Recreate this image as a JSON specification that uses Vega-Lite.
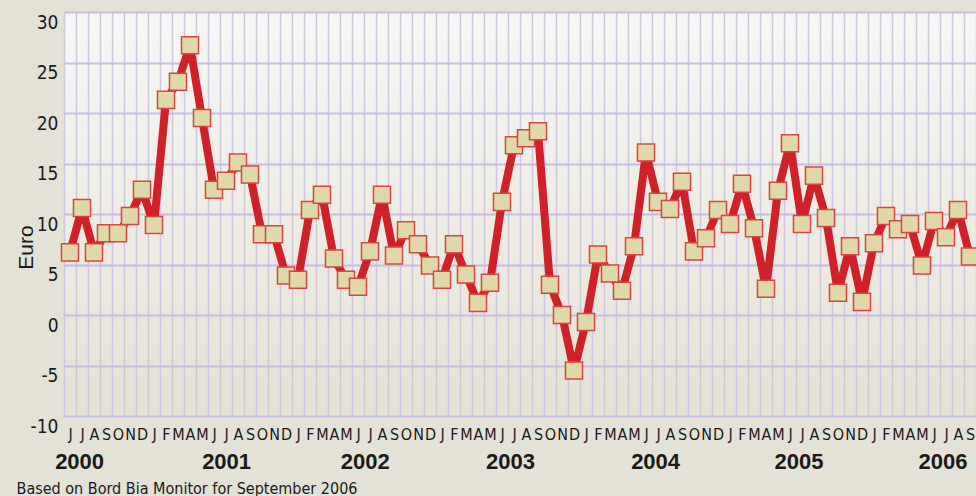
{
  "$schema": "https://vega.github.io/schema/vega-lite/v6.json",
  "autosize": {"type": "none"},
  "width": 912,
  "height": 404,
  "padding": {"left": 64, "top": 12, "right": 0, "bottom": 80},
  "background": "#e4e1d6",
  "config": {
    "view": {"stroke": null, "fill": {"gradient": "linear", "x1": 0, "y1": 0, "x2": 0, "y2": 1, "stops": [{"offset": 0, "color": "#f7f7f5"}, {"offset": 1, "color": "#e4e1d5"}]}},
    "axis": {"labelFont": "Liberation Sans Narrow, DejaVu Sans Condensed, sans-serif", "labelColor": "#1a1a1a", "titleColor": "#1a1a1a"}
  },
  "datasets": {
    "prices": [
      {"t": 0, "month": "2000-06", "price": 6.2},
      {"t": 1, "month": "2000-07", "price": 10.6},
      {"t": 2, "month": "2000-08", "price": 6.2},
      {"t": 3, "month": "2000-09", "price": 8.1},
      {"t": 4, "month": "2000-10", "price": 8.1},
      {"t": 5, "month": "2000-11", "price": 9.8},
      {"t": 6, "month": "2000-12", "price": 12.4},
      {"t": 7, "month": "2001-01", "price": 8.9},
      {"t": 8, "month": "2001-02", "price": 21.3},
      {"t": 9, "month": "2001-03", "price": 23.1},
      {"t": 10, "month": "2001-04", "price": 26.7},
      {"t": 11, "month": "2001-05", "price": 19.5},
      {"t": 12, "month": "2001-06", "price": 12.4},
      {"t": 13, "month": "2001-07", "price": 13.3},
      {"t": 14, "month": "2001-08", "price": 15.1},
      {"t": 15, "month": "2001-09", "price": 13.9},
      {"t": 16, "month": "2001-10", "price": 8.0},
      {"t": 17, "month": "2001-11", "price": 8.0},
      {"t": 18, "month": "2001-12", "price": 3.9},
      {"t": 19, "month": "2002-01", "price": 3.5},
      {"t": 20, "month": "2002-02", "price": 10.4},
      {"t": 21, "month": "2002-03", "price": 11.9},
      {"t": 22, "month": "2002-04", "price": 5.6},
      {"t": 23, "month": "2002-05", "price": 3.5},
      {"t": 24, "month": "2002-06", "price": 2.8},
      {"t": 25, "month": "2002-07", "price": 6.3},
      {"t": 26, "month": "2002-08", "price": 11.9},
      {"t": 27, "month": "2002-09", "price": 5.9},
      {"t": 28, "month": "2002-10", "price": 8.4},
      {"t": 29, "month": "2002-11", "price": 7.0},
      {"t": 30, "month": "2002-12", "price": 4.9},
      {"t": 31, "month": "2003-01", "price": 3.5},
      {"t": 32, "month": "2003-02", "price": 7.0},
      {"t": 33, "month": "2003-03", "price": 4.0},
      {"t": 34, "month": "2003-04", "price": 1.2},
      {"t": 35, "month": "2003-05", "price": 3.2},
      {"t": 36, "month": "2003-06", "price": 11.2},
      {"t": 37, "month": "2003-07", "price": 16.8},
      {"t": 38, "month": "2003-08", "price": 17.5},
      {"t": 39, "month": "2003-09", "price": 18.2},
      {"t": 40, "month": "2003-10", "price": 3.0},
      {"t": 41, "month": "2003-11", "price": 0.0},
      {"t": 42, "month": "2003-12", "price": -5.5},
      {"t": 43, "month": "2004-01", "price": -0.7},
      {"t": 44, "month": "2004-02", "price": 6.0},
      {"t": 45, "month": "2004-03", "price": 4.1},
      {"t": 46, "month": "2004-04", "price": 2.4},
      {"t": 47, "month": "2004-05", "price": 6.8},
      {"t": 48, "month": "2004-06", "price": 16.1},
      {"t": 49, "month": "2004-07", "price": 11.2},
      {"t": 50, "month": "2004-08", "price": 10.5},
      {"t": 51, "month": "2004-09", "price": 13.2},
      {"t": 52, "month": "2004-10", "price": 6.3},
      {"t": 53, "month": "2004-11", "price": 7.6},
      {"t": 54, "month": "2004-12", "price": 10.4},
      {"t": 55, "month": "2005-01", "price": 9.0},
      {"t": 56, "month": "2005-02", "price": 13.0},
      {"t": 57, "month": "2005-03", "price": 8.6},
      {"t": 58, "month": "2005-04", "price": 2.6},
      {"t": 59, "month": "2005-05", "price": 12.3},
      {"t": 60, "month": "2005-06", "price": 17.0},
      {"t": 61, "month": "2005-07", "price": 9.0},
      {"t": 62, "month": "2005-08", "price": 13.8},
      {"t": 63, "month": "2005-09", "price": 9.6},
      {"t": 64, "month": "2005-10", "price": 2.2},
      {"t": 65, "month": "2005-11", "price": 6.8},
      {"t": 66, "month": "2005-12", "price": 1.3},
      {"t": 67, "month": "2006-01", "price": 7.1},
      {"t": 68, "month": "2006-02", "price": 9.8},
      {"t": 69, "month": "2006-03", "price": 8.5},
      {"t": 70, "month": "2006-04", "price": 9.0},
      {"t": 71, "month": "2006-05", "price": 4.9},
      {"t": 72, "month": "2006-06", "price": 9.3},
      {"t": 73, "month": "2006-07", "price": 7.7},
      {"t": 74, "month": "2006-08", "price": 10.4},
      {"t": 75, "month": "2006-09", "price": 5.8}
    ],
    "years": [
      {"t": 0.8, "year": "2000"},
      {"t": 13.05, "year": "2001"},
      {"t": 24.6, "year": "2002"},
      {"t": 36.7, "year": "2003"},
      {"t": 48.8, "year": "2004"},
      {"t": 60.75, "year": "2005"},
      {"t": 72.75, "year": "2006"}
    ]
  },
  "layer": [
    {
      "data": {"name": "prices"},
      "mark": {"type": "line", "color": "#d0202a", "strokeWidth": 8, "strokeJoin": "round"},
      "encoding": {
        "x": {
          "field": "t", "type": "quantitative",
          "scale": {"domain": [-0.5, 75.5], "nice": false, "zero": false},
          "axis": {
            "values": [-0.5,0.5,1.5,2.5,3.5,4.5,5.5,6.5,7.5,8.5,9.5,10.5,11.5,12.5,13.5,14.5,15.5,16.5,17.5,18.5,19.5,20.5,21.5,22.5,23.5,24.5,25.5,26.5,27.5,28.5,29.5,30.5,31.5,32.5,33.5,34.5,35.5,36.5,37.5,38.5,39.5,40.5,41.5,42.5,43.5,44.5,45.5,46.5,47.5,48.5,49.5,50.5,51.5,52.5,53.5,54.5,55.5,56.5,57.5,58.5,59.5,60.5,61.5,62.5,63.5,64.5,65.5,66.5,67.5,68.5,69.5,70.5,71.5,72.5,73.5,74.5,75.5],
            "tickCount": 100,
            "labelExpr": "datum.value > 75 ? '' : substring('JFMAMJJASOND', (datum.value + 5.5) % 12, (datum.value + 5.5) % 12 + 1)",
            "labelOffset": 6,
            "labelAlign": "center",
            "labelBaseline": "top",
            "labelPadding": 10,
            "labelFontSize": 16,
            "labelFontWeight": "normal",
            "labelOverlap": false,
            "labelBound": false,
            "ticks": false,
            "domain": false,
            "grid": true,
            "gridColor": "#cdc6e7",
            "gridWidth": 1.5,
            "gridOpacity": 1,
            "title": "Based on Bord Bia Monitor for September 2006",
            "titleFont": "Liberation Sans Narrow, DejaVu Sans Condensed, sans-serif",
            "titleFontSize": 16,
            "titleFontWeight": "normal",
            "titleAnchor": "start",
            "titleAlign": "left",
            "titleBaseline": "alphabetic",
            "titleX": -48,
            "titleY": 77
          }
        },
        "y": {
          "field": "price", "type": "quantitative",
          "scale": {"domain": [-10, 30], "nice": false, "zero": false},
          "axis": {
            "values": [-10, -5, 0, 5, 10, 15, 20, 25, 30],
            "labelExpr": "datum.value < 0 ? '-' + abs(datum.value) : '' + datum.value",
            "labelFontSize": 19,
            "labelBaseline": "top",
            "labelOffset": 1,
            "labelPadding": 6,
            "ticks": false,
            "domain": false,
            "grid": true,
            "gridColor": "#c6bee2",
            "gridWidth": 2,
            "gridOpacity": 1,
            "title": "Euro",
            "titleFont": "Liberation Sans, sans-serif",
            "titleFontSize": 21,
            "titleFontWeight": "normal",
            "titleAngle": -90,
            "titleAlign": "center",
            "titleBaseline": "alphabetic",
            "titleX": -32,
            "titleY": 235
          }
        }
      }
    },
    {
      "data": {"name": "prices"},
      "mark": {"type": "square", "size": 290, "filled": true, "fill": "#dfd9aa", "stroke": "#d9463f", "strokeWidth": 1.5, "opacity": 1},
      "encoding": {
        "x": {"field": "t", "type": "quantitative"},
        "y": {"field": "price", "type": "quantitative"}
      }
    },
    {
      "data": {"name": "years"},
      "mark": {"type": "text", "font": "Liberation Sans, sans-serif", "fontSize": 22, "fontWeight": "bold", "color": "#1a1a1a", "baseline": "middle", "align": "center", "dy": 46},
      "encoding": {
        "x": {"field": "t", "type": "quantitative"},
        "y": {"datum": -10, "type": "quantitative"},
        "text": {"field": "year"}
      }
    }
  ]
}
